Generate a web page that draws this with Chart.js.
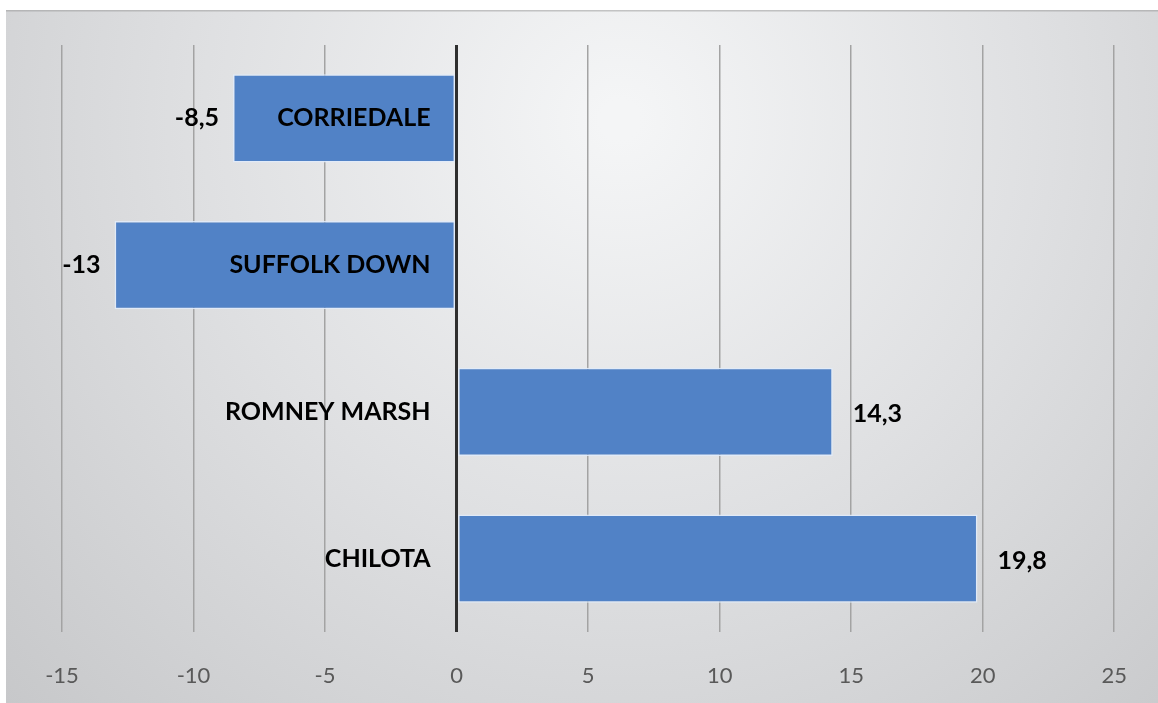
<!DOCTYPE html>
<html>
<head>
<meta charset="utf-8">
<script src="https://cdn.jsdelivr.net/npm/chart.js@4"></script>
<style>
  html, body { margin: 0; padding: 0; background: #fff; }
  #wrap { width: 1158px; height: 703px; position: relative; }
</style>
</head>
<body>
<div id="wrap"><canvas id="chart"></canvas></div>
<script>
// data
const breeds = ['CORRIEDALE', 'SUFFOLK DOWN', 'ROMNEY MARSH', 'CHILOTA'];
const values = [-8.5, -13, 14.3, 19.8];
const xTicks = [-15, -10, -5, 0, 5, 10, 15, 20, 25];

const fmt = v => String(v).replace('.', ',');

// gray radial backdrop like the office chart style
const backdrop = {
    id: 'backdrop',
    beforeDraw(chart) {
        const { ctx, width, height } = chart;
        ctx.save();
        ctx.fillStyle = '#ffffff';
        ctx.fillRect(0, 0, width, height);
        const g = ctx.createRadialGradient(620, 120, 20, 620, 120, 900);
        g.addColorStop(0, '#f4f5f6');
        g.addColorStop(0.45, '#dfe0e2');
        g.addColorStop(1, '#c4c5c7');
        ctx.fillStyle = g;
        ctx.fillRect(6, 10, width - 6, height - 10);
        ctx.fillStyle = 'rgba(150,150,150,0.5)';
        ctx.fillRect(6, 10, width - 6, 1.5);
        ctx.restore();
    },
};

// category names next to the zero line, values past the bar ends
const barLabels = {
    id: 'barLabels',
    afterDatasetsDraw(chart) {
        const { ctx } = chart;
        const meta = chart.getDatasetMeta(0);
        const x0 = chart.scales.x.getPixelForValue(0);
        ctx.save();
        ctx.fillStyle = '#000';
        ctx.textBaseline = 'middle';
        ctx.font = 'bold 25px Lato, "Open Sans", sans-serif';
        meta.data.forEach((bar, i) => {
            const v = values[i];
            ctx.textAlign = 'right';
            ctx.fillText(breeds[i], x0 - 26, bar.y);
            if (v < 0) {
                ctx.textAlign = 'right';
                ctx.fillText(fmt(v), bar.x - 14, bar.y);
            } else {
                ctx.textAlign = 'left';
                ctx.fillText(fmt(v), bar.x + 20, bar.y + 2);
            }
        });
        ctx.restore();
    },
};

new Chart(document.getElementById('chart'), {
    type: 'bar',
    data: {
        labels: breeds,
        datasets: [{
            data: values,
            backgroundColor: '#5182c6',
            borderColor: 'rgba(225,235,250,0.9)',
            borderWidth: 1.5,
            borderSkipped: false,
            categoryPercentage: 1,
            barPercentage: 0.6,
        }],
    },
    options: {
        indexAxis: 'y',
        responsive: true,
        maintainAspectRatio: false,
        animation: false,
        layout: { padding: { left: 62, right: 42, top: 45, bottom: 0 } },
        plugins: {
            legend: { display: false },
            tooltip: { enabled: false },
        },
        scales: {
            x: {
                min: -15,
                max: 25,
                afterBuildTicks: axis => { axis.ticks = xTicks.map(v => ({ value: v })); },
                afterFit: axis => { axis.height = 71; },
                border: { display: false },
                grid: {
                    drawTicks: false,
                    color: c => (c.tick && c.tick.value === 0) ? '#2f2f2f' : '#a3a3a3',
                    lineWidth: c => (c.tick && c.tick.value === 0) ? 3 : 1.5,
                },
                ticks: {
                    padding: 31,
                    color: '#595959',
                    font: { family: 'Lato, "Open Sans", sans-serif', size: 22 },
                },
            },
            y: { display: false },
        },
    },
    plugins: [backdrop, barLabels],
});
</script>
</body>
</html>
